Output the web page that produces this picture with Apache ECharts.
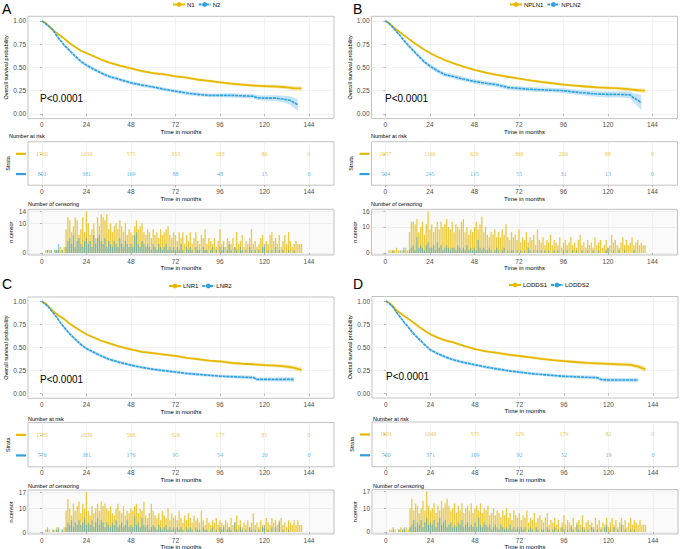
<!DOCTYPE html>
<html><head><meta charset="utf-8">
<script src="https://cdn.jsdelivr.net/npm/echarts@6/dist/echarts.min.js"></script>
<style>html,body{margin:0;padding:0;background:#fff}#c{width:682px;height:549px}</style>
</head><body><div id="c"></div><script>
// ---------- DATA ----------
const TIME_TICKS = [0, 24, 48, 72, 96, 120, 144];
const SURV_TICKS = [0, 0.25, 0.5, 0.75, 1];
const TIME_STD = [0,2,4,6,8,10,12,15,18,21,24,28,32,36,42,48,54,60,66,72,78,84,90,96,102,108,114,120,126,132,136,140];

// Panel A: N1 / N2
const A_NAMES = ['N1', 'N2'];
const A_S1 = [1.00,0.98,0.94,0.90,0.87,0.84,0.81,0.76,0.72,0.68,0.655,0.62,0.585,0.555,0.52,0.49,0.46,0.44,0.425,0.405,0.39,0.37,0.355,0.34,0.325,0.315,0.305,0.30,0.295,0.285,0.275,0.275];
const A_CI1 = [0,0.005,0.006,0.007,0.008,0.009,0.010,0.010,0.011,0.011,0.012,0.012,0.012,0.013,0.013,0.013,0.013,0.014,0.014,0.014,0.014,0.015,0.015,0.015,0.016,0.016,0.017,0.017,0.018,0.020,0.022,0.025];
const A_T2 = [0,2,4,6,8,10,12,15,18,21,24,28,32,36,42,48,54,60,66,72,78,84,90,96,102,108,114,116,120,126,130,134,136,138];
const A_S2 = [1.00,0.97,0.94,0.90,0.84,0.79,0.74,0.68,0.62,0.565,0.525,0.48,0.44,0.405,0.37,0.335,0.31,0.29,0.265,0.245,0.225,0.21,0.20,0.20,0.20,0.195,0.19,0.175,0.17,0.17,0.16,0.145,0.12,0.10];
const A_CI2 = [0,0.008,0.010,0.012,0.014,0.015,0.016,0.017,0.018,0.018,0.019,0.019,0.019,0.019,0.019,0.019,0.019,0.019,0.019,0.019,0.020,0.020,0.020,0.021,0.022,0.023,0.024,0.026,0.028,0.030,0.035,0.045,0.055,0.060];
const A_RISK1 = [1760, 1030, 575, 333, 183, 86, 0];
const A_RISK2 = [801, 381, 169, 88, 48, 15, 0];
const A_CENS1 = [0,1,1,1,1,0,1,1,1,2,1,2, 8,12,11,7,9,12,11,6,8,12,7,14, 10,6,8,10,5,12,9,13,12,11,13,8, 10,7,9,10,8,11,9,7,10,6,8,7, 6,9,11,8,9,10,7,6,8,7,5,8, 6,7,5,8,6,7,8,9,6,5,7,6, 4,7,5,7,3,6,4,7,3,5,7,4, 3,6,5,8,3,5,4,3,5,2,4,8, 3,4,2,5,4,3,5,2,7,3,4,6, 2,4,3,5,8,3,4,2,3,5,6,2, 4,3,6,7,4,5,3,6,2,4,6,3, 7,4,2,3,4,3,3,3];
const A_CENS2 = [0,0,1,0,1,0,1,1,3,0,1,0, 2,4,5,3,6,2,4,5,3,2,4,5, 3,4,2,6,3,5,6,4,3,5,2,4, 3,2,4,3,2,5,3,2,4,3,2,3, 2,6,7,3,2,4,3,2,3,2,1,3, 2,1,3,2,1,2,3,1,2,1,2,1, 2,1,3,1,0,2,1,2,1,0,2,1, 1,0,2,1,1,0,1,2,0,1,0,2, 1,2,0,1,3,1,0,2,1,0,2,1, 0,1,0,2,1,0,1,0,1,0,2,3, 0,1,0,1,0,2,0,1,0,1,0,0, 1,0,0,1,0,0,0,0];

// Panel B: NPLN1 / NPLN2
const B_NAMES = ['NPLN1', 'NPLN2'];
const B_S1 = [1.00,0.98,0.94,0.905,0.875,0.845,0.815,0.77,0.73,0.69,0.655,0.615,0.58,0.55,0.51,0.475,0.445,0.42,0.40,0.38,0.36,0.345,0.33,0.315,0.305,0.295,0.285,0.28,0.275,0.265,0.255,0.25];
const B_CI1 = [0,0.005,0.006,0.007,0.008,0.008,0.009,0.010,0.010,0.011,0.011,0.011,0.012,0.012,0.012,0.012,0.013,0.013,0.013,0.013,0.014,0.014,0.014,0.014,0.015,0.015,0.016,0.016,0.017,0.019,0.021,0.024];
const B_T2 = [0,2,4,6,8,10,12,15,18,21,24,28,32,36,42,48,54,60,66,72,78,84,90,96,102,108,114,120,126,132,134,136,138];
const B_S2 = [1.00,0.97,0.93,0.885,0.84,0.79,0.745,0.68,0.62,0.56,0.515,0.465,0.425,0.405,0.375,0.35,0.33,0.315,0.285,0.275,0.265,0.26,0.255,0.25,0.235,0.225,0.215,0.21,0.21,0.205,0.17,0.15,0.12];
const B_CI2 = [0,0.010,0.012,0.014,0.016,0.018,0.019,0.021,0.022,0.023,0.023,0.024,0.024,0.024,0.024,0.024,0.024,0.024,0.024,0.024,0.024,0.025,0.025,0.026,0.027,0.028,0.030,0.032,0.034,0.036,0.050,0.065,0.080];
const B_RISK1 = [2057, 1166, 629, 366, 200, 88, 0];
const B_RISK2 = [504, 245, 115, 55, 31, 13, 0];
const B_CENS1 = [0,1,1,1,1,2,1,0,1,1,2,1, 8,12,12,11,13,8,10,12,7,11,16,9, 11,8,10,12,9,12,10,11,13,10,9,12, 8,11,10,9,12,13,8,10,7,9,8,10, 12,9,11,14,8,10,7,6,8,7,9,6, 8,6,9,7,11,6,5,8,6,7,5,9, 4,6,5,8,4,6,5,7,3,9,5,4, 6,3,5,4,7,3,5,4,3,6,2,4, 5,3,4,6,3,4,2,5,7,3,4,2, 5,3,4,2,6,3,4,5,2,3,5,2, 3,7,4,5,3,2,4,6,3,5,3,4, 6,3,4,5,3,4,3,3];
const B_CENS2 = [0,0,0,1,0,0,0,1,0,2,0,0, 1,2,3,1,6,2,3,2,1,3,4,2, 2,3,1,4,2,3,1,2,3,2,1,2, 2,1,3,2,1,2,1,3,1,2,1,2, 1,5,2,1,2,1,1,2,1,0,1,2, 1,0,1,2,0,1,0,1,1,0,1,0, 1,0,1,0,2,1,0,1,0,1,0,1, 0,1,0,1,0,0,1,0,1,0,0,1, 0,1,0,0,1,0,1,0,0,1,0,0, 1,0,0,1,0,0,1,0,0,0,1,2, 0,0,1,0,0,1,0,0,1,0,0,0, 0,1,0,0,0,0,0,0];

// Panel C: LNR1 / LNR2
const C_NAMES = ['LNR1', 'LNR2'];
const C_S1 = [1.00,0.98,0.94,0.895,0.865,0.835,0.81,0.76,0.72,0.68,0.645,0.61,0.575,0.55,0.51,0.48,0.455,0.44,0.425,0.41,0.39,0.375,0.36,0.35,0.335,0.325,0.32,0.31,0.305,0.295,0.28,0.26];
const C_CI1 = [0,0.005,0.006,0.007,0.008,0.009,0.010,0.010,0.011,0.011,0.012,0.012,0.012,0.013,0.013,0.013,0.013,0.014,0.014,0.014,0.015,0.015,0.015,0.016,0.016,0.017,0.017,0.018,0.019,0.021,0.025,0.030];
const C_T2 = [0,2,4,6,8,10,12,15,18,21,24,28,32,36,42,48,54,60,66,72,78,84,90,96,102,108,114,116,120,126,132,136];
const C_S2 = [1.00,0.97,0.93,0.88,0.83,0.77,0.72,0.65,0.59,0.535,0.49,0.45,0.41,0.375,0.34,0.31,0.285,0.265,0.25,0.235,0.22,0.21,0.20,0.19,0.185,0.18,0.175,0.155,0.155,0.155,0.155,0.155];
const C_CI2 = [0,0.008,0.010,0.012,0.013,0.015,0.016,0.017,0.018,0.018,0.018,0.018,0.018,0.018,0.018,0.017,0.017,0.017,0.017,0.017,0.017,0.017,0.017,0.018,0.018,0.019,0.020,0.020,0.021,0.022,0.023,0.024];
const C_RISK1 = [1785, 1030, 568, 326, 177, 81, 0];
const C_RISK2 = [776, 381, 176, 95, 54, 20, 0];
const C_CENS1 = [0,1,2,1,0,1,1,2,1,0,1,2, 9,14,10,7,12,9,11,13,8,12,10,17, 9,7,11,8,10,12,9,13,11,12,10,9, 11,8,7,10,12,9,8,11,7,9,8,10, 9,11,12,8,10,9,13,7,6,8,12,9, 7,6,8,5,9,7,6,10,5,8,6,7, 5,9,6,4,7,5,8,6,4,7,5,6, 4,9,5,3,6,4,3,5,4,6,3,5, 4,3,5,4,2,6,3,4,7,3,5,2, 4,3,5,2,4,8,3,4,2,5,3,2, 6,4,3,6,4,5,3,5,6,3,4,2, 5,4,3,5,3,5,3,3];
const C_CENS2 = [0,0,1,0,0,1,0,1,2,0,1,0, 2,4,3,5,2,4,3,5,3,4,6,3, 4,3,5,2,4,6,3,5,4,2,4,3, 2,4,3,5,2,3,4,2,3,5,2,3, 2,7,3,4,2,6,3,2,3,1,2,3, 2,1,3,2,1,2,3,1,2,1,2,1, 2,1,2,1,0,2,1,2,1,0,2,1, 1,0,2,1,1,0,1,2,0,1,0,2, 1,2,0,1,2,1,0,4,1,0,2,1, 0,1,0,2,1,0,1,0,1,0,2,3, 0,1,0,2,0,2,0,4,0,1,0,0, 1,0,0,0,0,0,0,0];

// Panel D: LODDS1 / LODDS2
const D_NAMES = ['LODDS1', 'LODDS2'];
const D_S1 = [1.00,0.98,0.94,0.895,0.865,0.835,0.81,0.765,0.72,0.68,0.64,0.605,0.575,0.555,0.515,0.48,0.455,0.44,0.42,0.405,0.39,0.375,0.36,0.35,0.34,0.33,0.325,0.32,0.315,0.31,0.29,0.26];
const D_CI1 = [0,0.005,0.006,0.007,0.008,0.009,0.010,0.010,0.011,0.011,0.012,0.012,0.012,0.013,0.013,0.013,0.013,0.014,0.014,0.014,0.015,0.015,0.015,0.016,0.016,0.017,0.017,0.018,0.019,0.021,0.025,0.030];
const D_T2 = [0,2,4,6,8,10,12,15,18,21,24,28,32,36,42,48,54,60,66,72,78,84,90,96,102,108,114,116,120,126,132,136];
const D_S2 = [1.00,0.97,0.93,0.87,0.82,0.765,0.72,0.645,0.585,0.525,0.47,0.43,0.395,0.365,0.335,0.31,0.285,0.265,0.245,0.23,0.215,0.205,0.195,0.185,0.18,0.175,0.17,0.15,0.145,0.145,0.145,0.145];
const D_CI2 = [0,0.008,0.010,0.012,0.013,0.015,0.016,0.017,0.018,0.018,0.018,0.018,0.018,0.018,0.018,0.017,0.017,0.017,0.017,0.017,0.017,0.017,0.017,0.018,0.018,0.019,0.020,0.020,0.021,0.022,0.023,0.024];
const D_RISK1 = [1801, 1040, 575, 329, 179, 82, 0];
const D_RISK2 = [760, 371, 169, 92, 52, 19, 0];
const D_CENS1 = [0,1,1,2,1,0,1,2,1,1,2,1, 10,14,9,12,11,8,10,13,9,17,11,9, 10,12,8,11,9,13,10,12,14,11,9,10, 12,8,11,9,12,8,10,11,9,12,8,10, 11,9,12,8,10,9,11,7,8,10,7,9, 8,6,9,7,10,6,8,5,9,7,6,8, 5,7,6,9,4,6,5,8,4,6,7,5, 4,6,8,3,5,4,6,3,5,2,4,7, 3,5,4,3,6,2,4,5,3,7,2,4, 5,3,4,2,6,3,5,2,4,3,6,2, 4,6,3,5,2,4,6,3,5,2,4,6, 3,5,4,3,5,3,3,3];
const D_CENS2 = [0,0,0,1,0,0,1,0,1,2,0,0, 2,3,5,2,4,3,5,2,4,6,3,4, 3,5,2,4,6,3,4,5,2,3,4,2, 3,2,4,3,5,2,3,4,2,3,2,4, 2,6,3,2,4,3,2,3,1,2,3,2, 1,3,2,1,2,1,3,1,2,1,2,1, 2,1,2,0,1,2,1,0,2,1,0,1, 1,0,2,1,0,1,2,0,1,0,2,1, 0,1,0,2,1,0,3,1,0,2,1,0, 1,0,2,1,0,1,0,1,0,2,3,0, 1,0,2,0,1,0,3,0,1,0,0,1, 0,1,0,0,0,0,0,0];

const P_TEXT = 'P<0.0001';

// ---------- STYLE / LAYOUT ----------
const YEL = '#E7B800', BLU = '#2E9FDF';
const SANS = '"Liberation Sans", Arial, sans-serif';
const SERIF = '"Liberation Serif", "Times New Roman", serif';

const PANELS = [
  {letter:'A', names:A_NAMES, t1:TIME_STD, s1:A_S1, ci1:A_CI1, t2:A_T2, s2:A_S2, ci2:A_CI2, r1:A_RISK1, r2:A_RISK2, c1:A_CENS1, c2:A_CENS2,
   L:{left:28, width:306, km:[16.3,102.3], risk:[141.7,43.5], cens:[209.3,45.7], letter:[2,8.5], legend:[172,1.5], p:[40,98], riskT:[9,136], censT:[28,204]}},
  {letter:'B', names:B_NAMES, t1:TIME_STD, s1:B_S1, ci1:B_CI1, t2:B_T2, s2:B_S2, ci2:B_CI2, r1:B_RISK1, r2:B_RISK2, c1:B_CENS1, c2:B_CENS2,
   L:{left:371.5, width:306, km:[16.3,102.3], risk:[141.7,43.5], cens:[209.3,45.7], letter:[353,8.5], legend:[509,1.5], p:[385,98], riskT:[371,136], censT:[371,204]}},
  {letter:'C', names:C_NAMES, t1:TIME_STD, s1:C_S1, ci1:C_CI1, t2:C_T2, s2:C_S2, ci2:C_CI2, r1:C_RISK1, r2:C_RISK2, c1:C_CENS1, c2:C_CENS2,
   L:{left:28, width:306, km:[297,101.3], risk:[422.5,44.3], cens:[490,44], letter:[2,284], legend:[168,283], p:[40,379], riskT:[28,419], censT:[28,486]}},
  {letter:'D', names:D_NAMES, t1:TIME_STD, s1:D_S1, ci1:D_CI1, t2:D_T2, s2:D_S2, ci2:D_CI2, r1:D_RISK1, r2:D_RISK2, c1:D_CENS1, c2:D_CENS2,
   L:{left:372, width:306, km:[296.5,101.5], risk:[422,44.7], cens:[489.5,44.5], letter:[353,284], legend:[508,282], p:[386,376], riskT:[373,419], censT:[373,486]}}
];

const opt = {animation:false, backgroundColor:'#fff', grid:[], xAxis:[], yAxis:[], series:[], legend:[], graphic:[]};

function addGrid(L, tb, bg){
  opt.grid.push({left:L.left, top:tb[0], width:L.width, height:tb[1], show:true, borderColor:'#b3b3b3', borderWidth:0.8, backgroundColor:bg||'#fff', containLabel:false, outerBoundsMode:'none'});
  return opt.grid.length-1;
}
function xAx(g){
  return {type:'value', gridIndex:g, min:-7.5, max:157.5,
    axisLine:{show:false},
    axisTick:{show:true, customValues:TIME_TICKS, length:2, lineStyle:{color:'#8c8c8c', width:0.6}},
    axisLabel:{customValues:TIME_TICKS, fontSize:6.5, color:'#4d4d4d', margin:2.5, fontFamily:SANS},
    splitLine:{show:true, lineStyle:{color:'#ebebeb', width:0.6}},
    name:'Time in months', nameLocation:'middle', nameGap:9.5, nameTextStyle:{fontSize:6, color:'#000', fontFamily:SANS}};
}
function band(g, t, s, ci, color){
  return {type:'custom', xAxisIndex:g, yAxisIndex:g, silent:true, z:1, data:[[0,0]],
    renderItem:function(params, api){
      const up = t.map((x,k)=>api.coord([x, Math.min(1, s[k]+ci[k])]));
      const lo = t.map((x,k)=>api.coord([x, Math.max(0, s[k]-ci[k])])).reverse();
      return {type:'polygon', shape:{points:up.concat(lo)}, style:{fill:color}};
    }};
}

PANELS.forEach(P=>{
  const L = P.L;
  // ---- KM plot
  const g = addGrid(L, L.km);
  opt.xAxis.push(xAx(g));
  opt.yAxis.push({type:'value', gridIndex:g, min:-0.05, max:1.05,
    axisLine:{show:false},
    axisTick:{show:true, customValues:SURV_TICKS, length:2, lineStyle:{color:'#8c8c8c', width:0.6}},
    axisLabel:{customValues:SURV_TICKS, formatter:v=>Number(v).toFixed(2), fontSize:6.5, color:'#4d4d4d', margin:2, fontFamily:SANS},
    splitLine:{show:true, lineStyle:{color:'#ebebeb', width:0.6}},
    name:'Overall survival probability', nameLocation:'middle', nameGap:17.5, nameRotate:90,
    nameTextStyle:{fontSize:5.5, color:'#000', fontFamily:SANS}});
  opt.series.push(band(g, P.t1, P.s1, P.ci1, 'rgba(231,184,0,0.28)'));
  opt.series.push(band(g, P.t2, P.s2, P.ci2, 'rgba(46,159,223,0.28)'));
  opt.series.push({type:'line', name:P.names[0], xAxisIndex:g, yAxisIndex:g, z:3, showSymbol:false, symbol:'none',
    data:P.t1.map((x,k)=>[x,P.s1[k]]), lineStyle:{color:YEL, width:1.8}, itemStyle:{color:YEL}});
  opt.series.push({type:'line', name:P.names[1], xAxisIndex:g, yAxisIndex:g, z:3, showSymbol:false, symbol:'none',
    data:P.t2.map((x,k)=>[x,P.s2[k]]), lineStyle:{color:BLU, width:1.6, type:[3,0.8]}, itemStyle:{color:BLU}});
  opt.legend.push({data:P.names, left:L.legend[0], top:L.legend[1], padding:0, itemGap:3, itemWidth:12, itemHeight:6,
    textStyle:{fontSize:6, color:'#000', fontFamily:SANS, padding:[0,0,0,-3]}, selectedMode:false});

  // ---- risk table
  const r = addGrid(L, L.risk);
  opt.xAxis.push(xAx(r));
  opt.yAxis.push({type:'value', gridIndex:r, min:0.45, max:2.6,
    axisLine:{show:false},
    axisTick:{show:true, customValues:[1,2], length:2, lineStyle:{color:'#8c8c8c', width:0.6}},
    axisLabel:{customValues:[1,2], margin:2, formatter:v=>(Number(v)===2?'{a|}':'{b|}'),
      rich:{a:{width:10, height:2.2, backgroundColor:YEL}, b:{width:10, height:2.2, backgroundColor:BLU}}},
    splitLine:{show:false},
    name:'Strata', nameLocation:'middle', nameGap:17.5, nameRotate:90, nameTextStyle:{fontSize:5.5, color:'#000', fontFamily:SANS}});
  [[P.r1,2,YEL],[P.r2,1,BLU]].forEach(([arr,row,col])=>{
    opt.series.push({type:'scatter', xAxisIndex:r, yAxisIndex:r, symbol:'circle', symbolSize:1, silent:true,
      itemStyle:{color:'rgba(0,0,0,0)'},
      data:TIME_TICKS.map((x,k)=>[x,row,arr[k]]),
      label:{show:true, position:'inside', formatter:p=>String(p.value[2]), color:col, fontSize:6, fontFamily:SERIF}});
  });

  // ---- censoring plot
  const c = addGrid(L, L.cens, '#fafafa');
  const cmax = Math.max(...P.c1, ...P.c2);
  opt.xAxis.push(xAx(c));
  opt.yAxis.push({type:'value', gridIndex:c, min:-0.05*cmax, max:1.05*cmax,
    axisLine:{show:false},
    axisTick:{show:true, customValues:[0,10,cmax], length:2, lineStyle:{color:'#8c8c8c', width:0.6}},
    axisLabel:{customValues:[0,10,cmax], fontSize:6.5, color:'#4d4d4d', margin:2, fontFamily:SANS},
    splitLine:{show:true, lineStyle:{color:'#e6e6e6', width:0.6}},
    name:'n.censor', nameLocation:'middle', nameGap:14, nameRotate:90, nameTextStyle:{fontSize:5.5, color:'#000', fontFamily:SANS}});
  opt.series.push({type:'bar', xAxisIndex:c, yAxisIndex:c, barWidth:1.3, barGap:'-100%', silent:true,
    data:P.c1.map((v,k)=>[k+1,v]).filter(d=>d[1]>0), itemStyle:{color:'rgba(231,184,0,0.75)'}});
  opt.series.push({type:'bar', xAxisIndex:c, yAxisIndex:c, barWidth:1.3, barGap:'-100%', silent:true,
    data:P.c2.map((v,k)=>[k+1,v]).filter(d=>d[1]>0), itemStyle:{color:'rgba(46,159,223,0.55)'}});

  // ---- texts
  opt.graphic.push({type:'text', x:L.letter[0], y:L.letter[1], silent:true,
    style:{text:P.letter, fontSize:14, fontWeight:'normal', fontFamily:SANS, fill:'#000', verticalAlign:'middle'}});
  opt.graphic.push({type:'text', x:L.p[0], y:L.p[1], silent:true, z:10,
    style:{text:P_TEXT, fontSize:10, fontFamily:SANS, fill:'#000', verticalAlign:'middle'}});
  opt.graphic.push({type:'text', x:L.riskT[0], y:L.riskT[1], silent:true,
    style:{text:'Number at risk', fontSize:5.5, fontFamily:SANS, fill:'#000', verticalAlign:'middle'}});
  opt.graphic.push({type:'text', x:L.censT[0], y:L.censT[1], silent:true,
    style:{text:'Number of censoring', fontSize:5.5, fontFamily:SANS, fill:'#000', verticalAlign:'middle'}});
});

const chart = echarts.init(document.getElementById('c'), null, {renderer:'svg', width:682, height:549});
chart.setOption(opt);
</script></body></html>
